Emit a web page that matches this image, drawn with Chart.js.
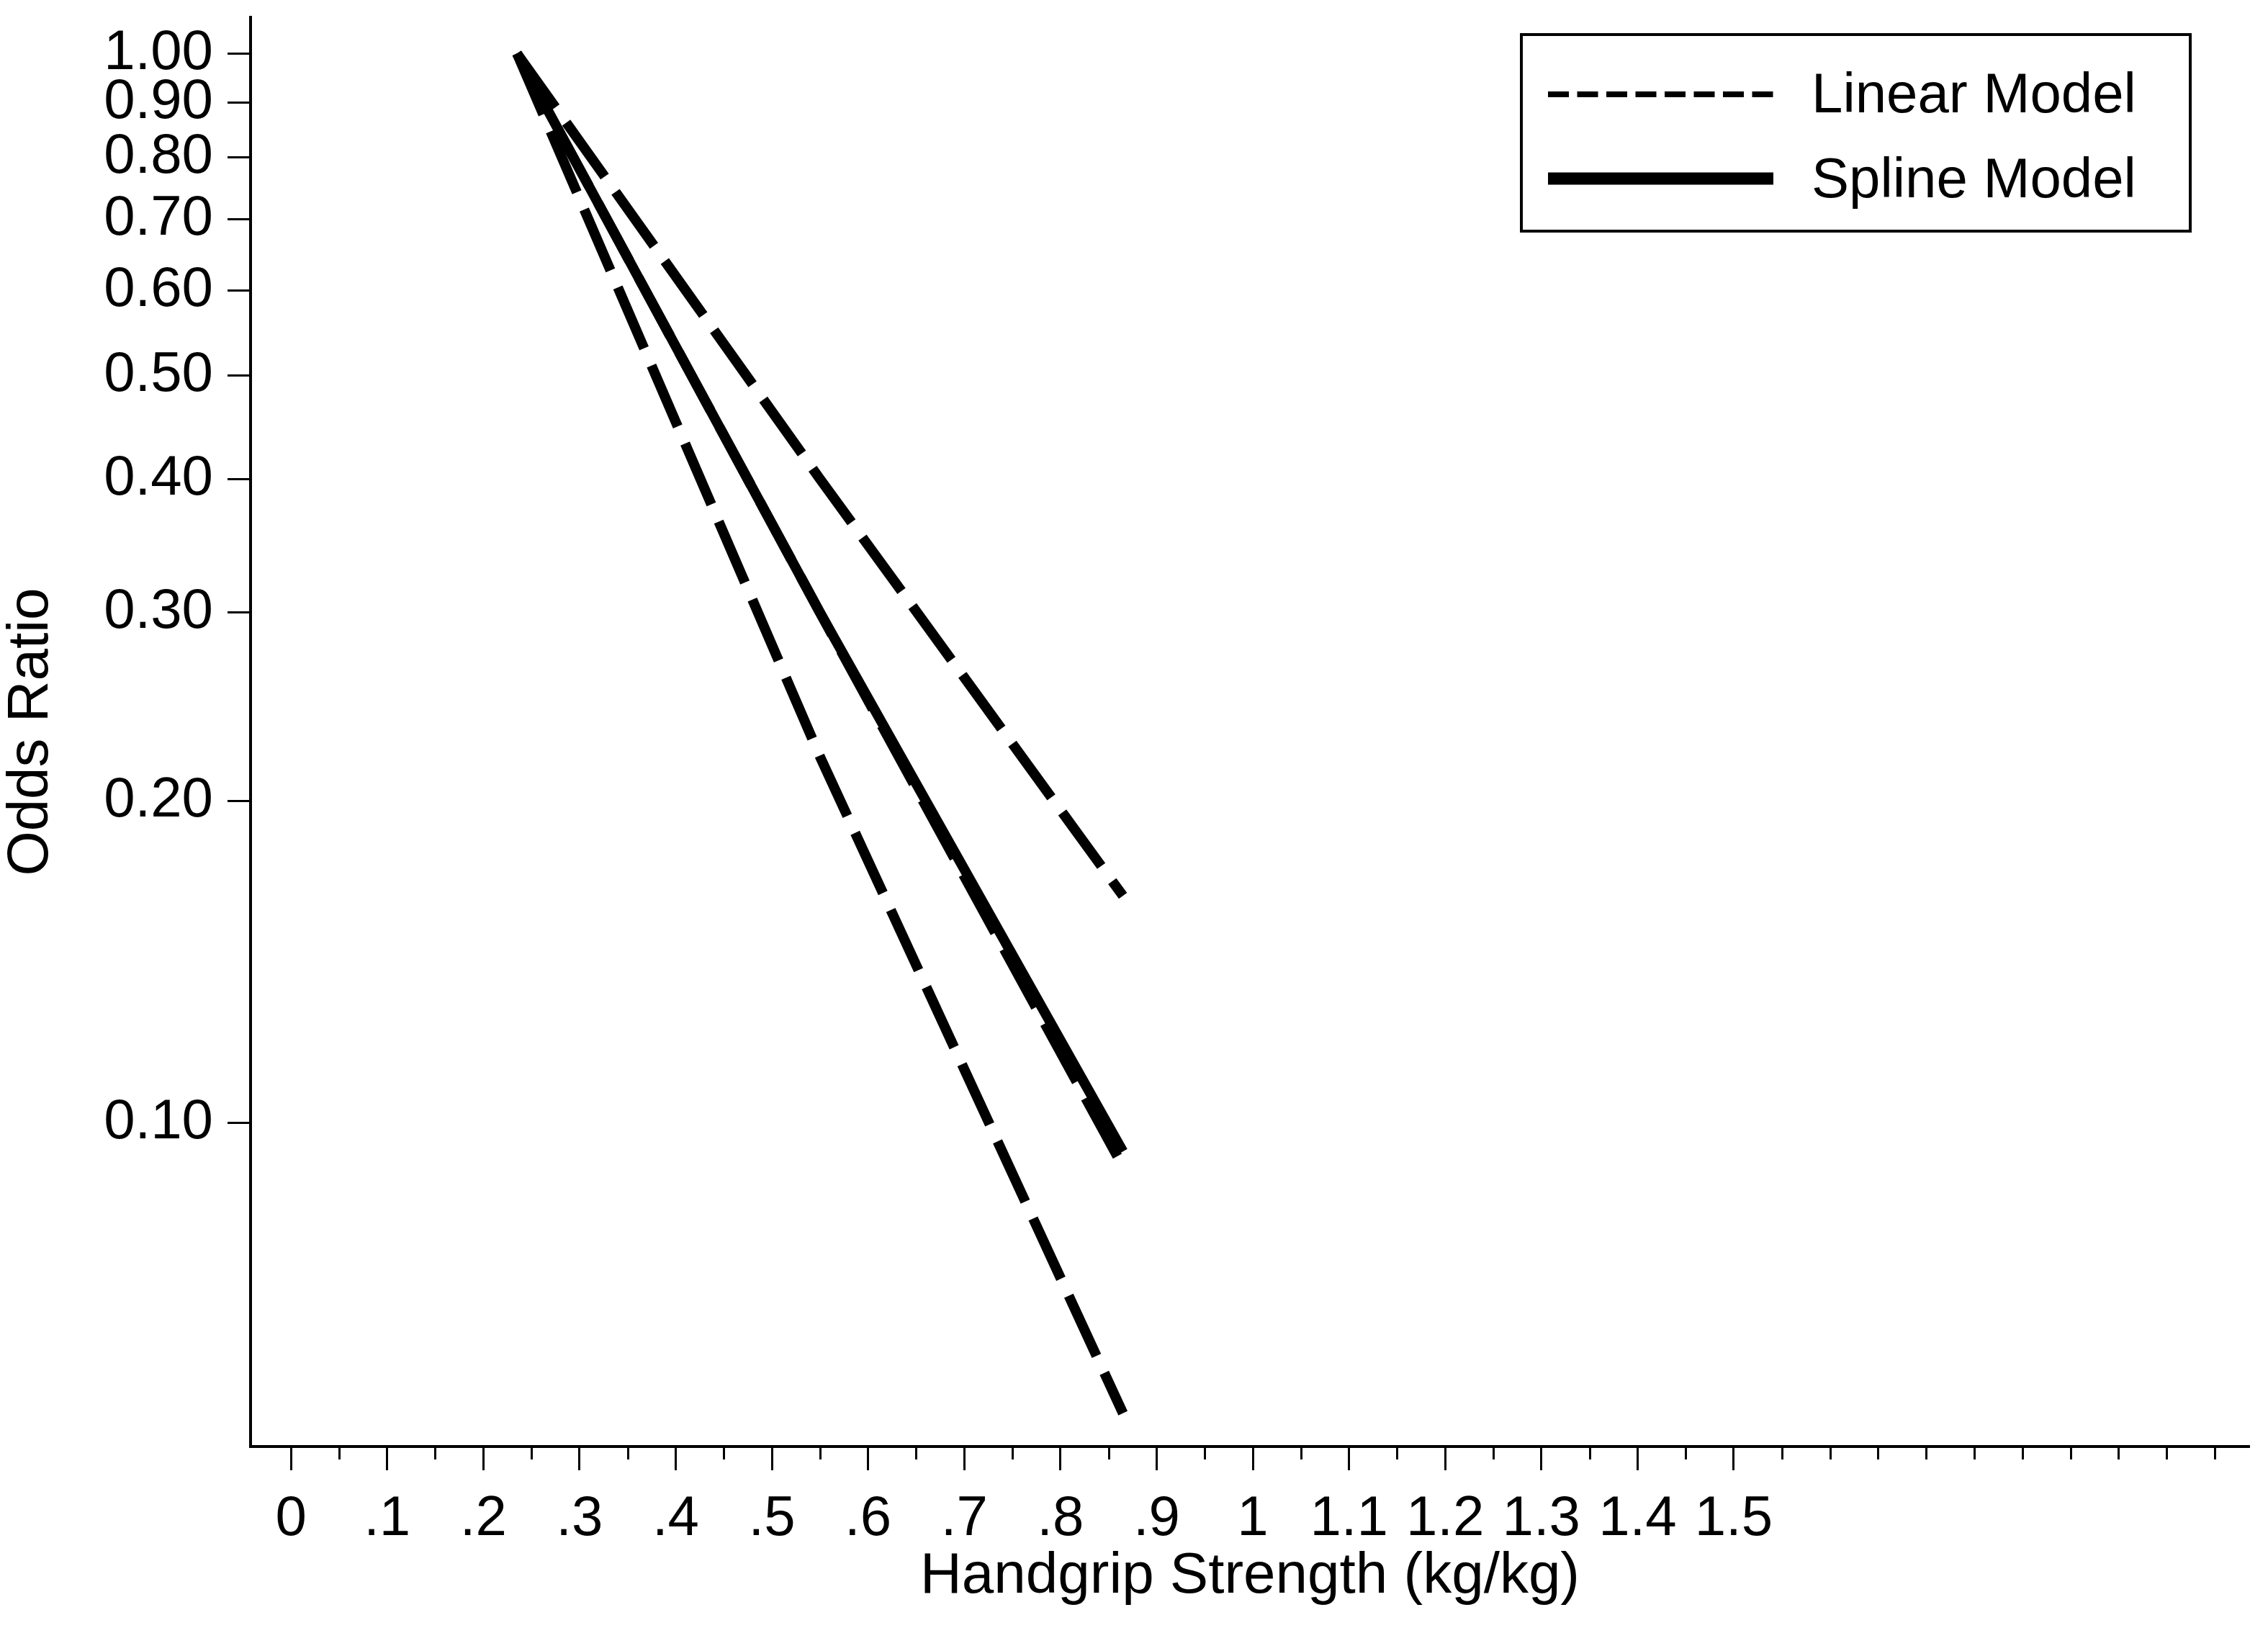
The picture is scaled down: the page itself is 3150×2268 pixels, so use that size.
<!DOCTYPE html>
<html>
<head>
<meta charset="utf-8">
<script src="https://cdn.jsdelivr.net/npm/chart.js@4.4.1/dist/chart.umd.min.js"></script>
<style>
  html, body { margin: 0; padding: 0; background: #fff; }
  #wrap { width: 3150px; height: 2268px; }
</style>
</head>
<body>
<div id="wrap"><canvas id="orChart" width="3150" height="2268"></canvas></div>
<script>
// handgrip strength (kg/kg) where the curves were read
var gripValues = [0.235, 0.55, 0.865];

// odds ratios
var splineOR = [1.0, 0.30, 0.094];
var linearOR = [1.0, 0.30, 0.091];
var upperOR = [1.0, 0.40, 0.163];
var lowerOR = [1.0, 0.22, 0.0535];

var seriesNames = ['Linear Model', 'Spline Model'];

// axis ticks
var xTickValues = [0, 0.1, 0.2, 0.3, 0.4, 0.5, 0.6, 0.7, 0.8, 0.9, 1, 1.1, 1.2, 1.3, 1.4, 1.5];
var xTickLabels = ['0', '.1', '.2', '.3', '.4', '.5', '.6', '.7', '.8', '.9', '1', '1.1', '1.2', '1.3', '1.4', '1.5'];
var yTickValues = [0.1, 0.2, 0.3, 0.4, 0.5, 0.6, 0.7, 0.8, 0.9, 1.0];

Chart.defaults.font.family = "'Liberation Sans', Arial, sans-serif";
Chart.defaults.color = '#000';

function toPoints(xs, ys) {
  var pts = [];
  for (var i = 0; i < xs.length; i++) {
    pts.push({ x: xs[i], y: ys[i] });
  }
  return pts;
}

// short ticks every .05 that the scale itself does not carry
var minorTicks = {
  id: 'minorTicks',
  afterDraw: function (chart, args, opts) {
    var xs = chart.scales.x;
    var ctx = chart.ctx;
    ctx.save();
    ctx.strokeStyle = '#000';
    ctx.lineWidth = 3;
    for (var i = 1; i <= 40; i++) {
      var v = i * 0.05;
      if (i % 2 === 0 && v <= 1.5 + 1e-9) continue;
      var px = Math.round(xs.getPixelForValue(v)) + 0.5;
      ctx.beginPath();
      ctx.moveTo(px, xs.top);
      ctx.lineTo(px, xs.top + opts.length);
      ctx.stroke();
    }
    ctx.restore();
  }
};

// boxed legend in the top right corner
var boxLegend = {
  id: 'boxLegend',
  afterDraw: function (chart, args, opts) {
    var ctx = chart.ctx;
    ctx.save();
    ctx.strokeStyle = '#000';
    ctx.lineWidth = 4;
    ctx.strokeRect(opts.left, opts.top, opts.width, opts.height);
    ctx.font = opts.fontSize + "px 'Liberation Sans', Arial, sans-serif";
    ctx.fillStyle = '#000';
    ctx.textBaseline = 'middle';
    var row = 0;
    chart.data.datasets.forEach(function (ds) {
      if (!ds.inLegend) return;
      var r = opts.rows[row];
      ctx.beginPath();
      ctx.lineWidth = r.lineWidth;
      ctx.setLineDash(r.dash);
      ctx.lineCap = 'butt';
      ctx.moveTo(opts.sampleFrom, r.y);
      ctx.lineTo(opts.sampleTo, r.y);
      ctx.stroke();
      ctx.setLineDash([]);
      ctx.fillText(ds.label, opts.textX, r.textY);
      row++;
    });
    ctx.restore();
  }
};

new Chart(document.getElementById('orChart'), {
  type: 'line',
  data: {
    datasets: [
      {
        label: seriesNames[1],
        data: toPoints(gripValues, splineOR),
        borderColor: '#000',
        borderWidth: 14,
        borderCapStyle: 'butt',
        pointRadius: 0,
        tension: 0,
        order: 0,
        inLegend: false
      },
      {
        label: seriesNames[0],
        data: toPoints(gripValues, linearOR),
        borderColor: '#000',
        borderWidth: 14,
        borderDash: [92, 26],
        borderCapStyle: 'butt',
        pointRadius: 0,
        tension: 0,
        order: 1,
        inLegend: true
      },
      {
        label: 'Upper 95% CI',
        data: toPoints(gripValues, upperOR),
        borderColor: '#000',
        borderWidth: 14,
        borderDash: [92, 26],
        borderCapStyle: 'butt',
        pointRadius: 0,
        tension: 0,
        order: 2,
        inLegend: false
      },
      {
        label: 'Lower 95% CI',
        data: toPoints(gripValues, lowerOR),
        borderColor: '#000',
        borderWidth: 14,
        borderDash: [92, 26],
        borderCapStyle: 'butt',
        pointRadius: 0,
        tension: 0,
        order: 3,
        inLegend: false
      },
      // listed again only so the legend reads Linear then Spline
      {
        label: seriesNames[1],
        data: [],
        borderColor: '#000',
        borderWidth: 0,
        pointRadius: 0,
        inLegend: true
      }
    ]
  },
  options: {
    responsive: false,
    animation: false,
    devicePixelRatio: 1,
    layout: { padding: { top: 24, right: 26, bottom: 0, left: 0 } },
    plugins: {
      legend: { display: false },
      tooltip: { enabled: false },
      minorTicks: { length: 18 },
      boxLegend: {
        left: 2113, top: 48, width: 929, height: 273,
        sampleFrom: 2150, sampleTo: 2463, textX: 2516, fontSize: 78,
        rows: [
          { y: 131, textY: 134, lineWidth: 8, dash: [29, 11.5] },
          { y: 248, textY: 252, lineWidth: 17, dash: [] }
        ]
      }
    },
    scales: {
      x: {
        type: 'linear',
        min: -0.042,
        max: 2.036,
        bounds: 'data',
        afterBuildTicks: function (scale) {
          scale.ticks = xTickValues.map(function (v) { return { value: v }; });
        },
        afterFit: function (scale) {
          scale.height = 259;
          scale.paddingLeft = 0;
          scale.paddingRight = 0;
        },
        ticks: {
          autoSkip: false,
          maxRotation: 0,
          padding: 29,
          color: '#000',
          font: { size: 78, lineHeight: 1 },
          callback: function (value) {
            for (var i = 0; i < xTickValues.length; i++) {
              if (Math.abs(xTickValues[i] - value) < 1e-9) return xTickLabels[i];
            }
            return '';
          }
        },
        grid: { drawOnChartArea: false, drawTicks: true, tickLength: 33, tickWidth: 3, tickColor: '#000' },
        border: { display: true, color: '#000', width: 4 },
        title: {
          display: true,
          text: 'Handgrip Strength (kg/kg)',
          color: '#000',
          font: { size: 80, lineHeight: 1 },
          padding: { top: 0, bottom: 38 }
        }
      },
      y: {
        type: 'logarithmic',
        min: 0.0498,
        max: 1.081,
        bounds: 'data',
        afterBuildTicks: function (scale) {
          scale.ticks = yTickValues.map(function (v) { return { value: v }; });
        },
        afterFit: function (scale) {
          scale.width = 348;
          scale.paddingTop = 0;
          scale.paddingBottom = 0;
        },
        ticks: {
          autoSkip: false,
          padding: 20,
          color: '#000',
          font: { size: 78, lineHeight: 1 },
          callback: function (value) { return Number(value).toFixed(2); }
        },
        grid: { drawOnChartArea: false, drawTicks: true, tickLength: 32, tickWidth: 3, tickColor: '#000' },
        border: { display: true, color: '#000', width: 4 },
        title: {
          display: true,
          text: 'Odds Ratio',
          color: '#000',
          font: { size: 80, lineHeight: 1 },
          padding: { top: 4, bottom: 0 }
        }
      }
    }
  },
  plugins: [minorTicks, boxLegend]
});
</script>
</body>
</html>
